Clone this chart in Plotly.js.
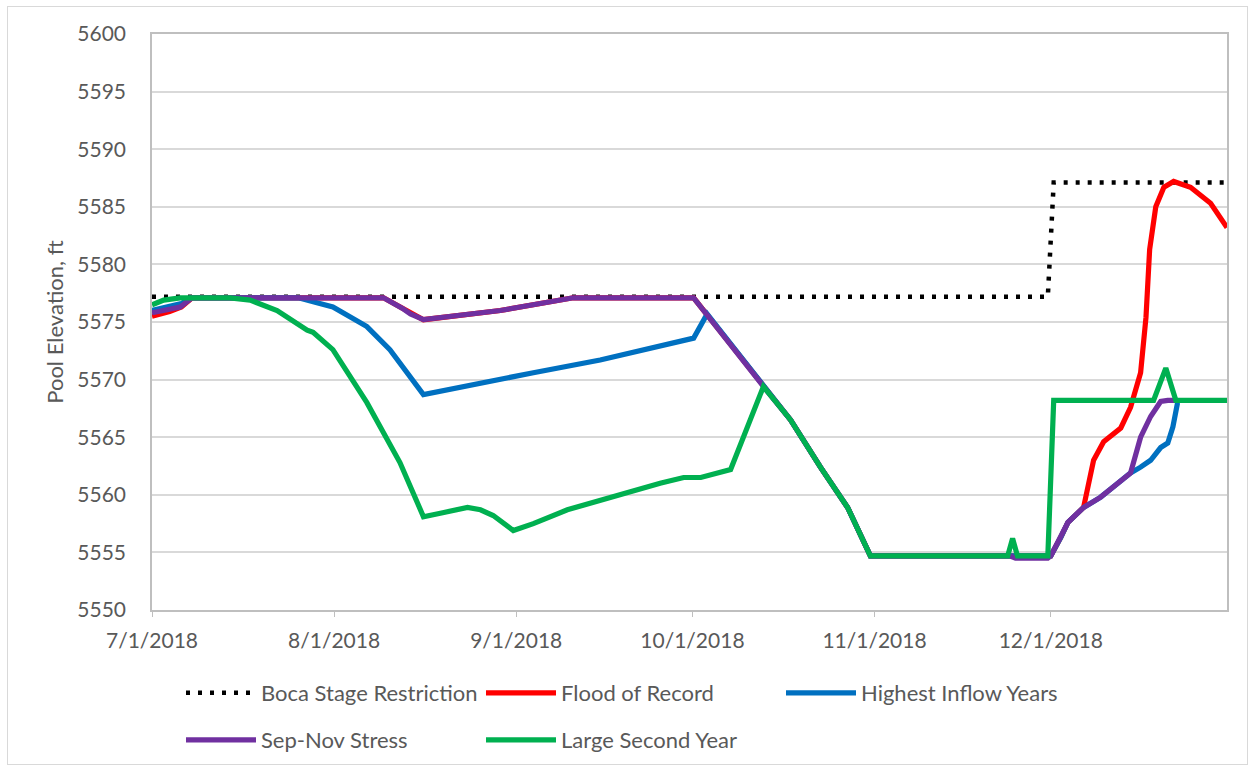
<!DOCTYPE html>
<html>
<head>
<meta charset="utf-8">
<script src="https://cdn.plot.ly/plotly-3.0.1.min.js"></script>
<style>
  html, body { margin: 0; padding: 0; background: #ffffff; }
  #wrap { position: relative; width: 1254px; height: 770px; }
  #chart { position: absolute; left: 0; top: 0; width: 1254px; height: 770px; }
  #frame { position: absolute; left: 7px; top: 6px; width: 1239px; height: 757px; border: 1px solid #d9d9d9; pointer-events: none; }
</style>
</head>
<body>
<div id="wrap"><div id="chart"></div><div id="frame"></div></div>
<script>
// ---- data ----
const seriesNames = ['Boca Stage Restriction', 'Flood of Record', 'Highest Inflow Years', 'Sep-Nov Stress', 'Large Second Year'];

const tickDates = ['2018-07-01', '2018-08-01', '2018-09-01', '2018-10-01', '2018-11-01', '2018-12-01'];
const tickLabels = ['7/1/2018', '8/1/2018', '9/1/2018', '10/1/2018', '11/1/2018', '12/1/2018'];

const bocaDates = ['2018-07-01', '2018-11-30 12:00', '2018-12-01 12:00', '2018-12-31'];
const bocaElev  = [5577.2, 5577.2, 5587.1, 5587.1];

const floodDates = ['2018-07-01', '2018-07-04', '2018-07-06', '2018-07-07 20:00', '2018-08-09 10:00', '2018-08-12 14:00',
  '2018-08-14', '2018-08-16 05:00', '2018-08-29 07:00', '2018-09-10 17:00', '2018-10-01 05:00', '2018-10-13 02:00',
  '2018-10-17 17:00', '2018-10-22 19:00', '2018-10-27 10:00', '2018-10-31 07:00', '2018-12-01', '2018-12-02 17:00',
  '2018-12-03 22:00', '2018-12-06 14:00', '2018-12-08 07:00', '2018-12-10', '2018-12-12 22:00', '2018-12-14 14:00',
  '2018-12-16 07:00', '2018-12-17 05:00', '2018-12-17 20:00', '2018-12-18 21:00', '2018-12-20 06:00', '2018-12-21 22:00',
  '2018-12-24 19:00', '2018-12-28 05:00', '2018-12-31'];
const floodElev = [5575.5, 5575.9, 5576.3, 5577.1, 5577.1, 5576.2,
  5575.7, 5575.2, 5576.0, 5577.1, 5577.1, 5569.4,
  5566.5, 5562.4, 5558.9, 5554.7, 5554.7, 5556.3,
  5557.6, 5558.9, 5563.0, 5564.6, 5565.8, 5567.6,
  5570.6, 5575.4, 5581.3, 5585.0, 5586.7, 5587.2,
  5586.7, 5585.3, 5583.2];

const highDates = ['2018-07-01', '2018-07-04', '2018-07-06', '2018-07-07 12:00', '2018-07-25 22:00', '2018-07-28 22:00',
  '2018-07-31 19:00', '2018-08-06 14:00', '2018-08-10 12:00', '2018-08-16 05:00', '2018-08-23 17:00', '2018-09-03 22:00',
  '2018-09-15 07:00', '2018-09-26 17:00', '2018-10-01 05:00', '2018-10-03 12:00', '2018-10-13 02:00', '2018-10-17 17:00',
  '2018-10-22 19:00', '2018-10-27 10:00', '2018-10-31 07:00', '2018-12-01', '2018-12-02 17:00', '2018-12-03 22:00',
  '2018-12-06 14:00', '2018-12-09 12:00', '2018-12-12 10:00', '2018-12-14 14:00', '2018-12-16 07:00', '2018-12-18',
  '2018-12-19 17:00', '2018-12-20 22:00', '2018-12-21 19:00', '2018-12-22 14:00'];
const highElev = [5576.0, 5576.3, 5576.6, 5577.1, 5577.1, 5576.7,
  5576.3, 5574.6, 5572.6, 5568.7, 5569.5, 5570.6,
  5571.7, 5573.0, 5573.6, 5575.7, 5569.4, 5566.5,
  5562.4, 5558.9, 5554.7, 5554.7, 5556.3, 5557.6,
  5558.9, 5559.8, 5561.0, 5561.9, 5562.4, 5563.0,
  5564.1, 5564.5, 5565.9, 5568.0];

const sepNovDates = ['2018-07-01', '2018-07-04', '2018-07-05 19:00', '2018-07-07 20:00', '2018-08-09 10:00', '2018-08-12 14:00',
  '2018-08-14', '2018-08-16 05:00', '2018-08-29 07:00', '2018-09-10 17:00', '2018-10-01 05:00', '2018-10-13 02:00',
  '2018-10-17 17:00', '2018-10-22 19:00', '2018-10-27 10:00', '2018-10-31 07:00', '2018-11-24', '2018-11-25',
  '2018-11-30 12:00', '2018-12-01', '2018-12-02 17:00', '2018-12-03 22:00', '2018-12-06 14:00', '2018-12-09 12:00',
  '2018-12-12 10:00', '2018-12-14 14:00', '2018-12-16 07:00', '2018-12-18', '2018-12-19 17:00', '2018-12-20 22:00',
  '2018-12-22 14:00'];
const sepNovElev = [5575.8, 5576.1, 5576.3, 5577.1, 5577.1, 5576.2,
  5575.7, 5575.2, 5576.0, 5577.1, 5577.1, 5569.4,
  5566.5, 5562.4, 5558.9, 5554.7, 5554.7, 5554.5,
  5554.5, 5554.7, 5556.3, 5557.6, 5558.9, 5559.8,
  5561.0, 5561.9, 5565.0, 5566.8, 5568.1, 5568.2,
  5568.2];

const largeDates = ['2018-07-01', '2018-07-03', '2018-07-05 19:00', '2018-07-14 07:00', '2018-07-17 17:00', '2018-07-22 07:00',
  '2018-07-27 10:00', '2018-07-28 10:00', '2018-07-31 19:00', '2018-08-06 14:00', '2018-08-12 05:00', '2018-08-16 05:00',
  '2018-08-19 02:00', '2018-08-23 17:00', '2018-08-25 22:00', '2018-08-28 02:00', '2018-08-31 12:00', '2018-09-03 22:00',
  '2018-09-09 17:00', '2018-09-15 07:00', '2018-09-20 22:00', '2018-09-25 12:00', '2018-09-29 12:00', '2018-10-02 10:00',
  '2018-10-07 12:00', '2018-10-13 02:00', '2018-10-17 17:00', '2018-10-22 19:00', '2018-10-27 10:00', '2018-10-31 07:00',
  '2018-11-23 16:00', '2018-11-24 12:00', '2018-11-25 08:00', '2018-11-30 12:00', '2018-12-01 12:00', '2018-12-18 12:00',
  '2018-12-20 14:00', '2018-12-22 07:00', '2018-12-31'];
const largeElev = [5576.5, 5576.9, 5577.1, 5577.1, 5576.9, 5576.0,
  5574.3, 5574.1, 5572.6, 5568.0, 5562.8, 5558.1,
  5558.4, 5558.9, 5558.7, 5558.2, 5556.9, 5557.5,
  5558.7, 5559.5, 5560.4, 5561.0, 5561.5, 5561.5,
  5562.2, 5569.4, 5566.5, 5562.4, 5558.9, 5554.7,
  5554.7, 5556.2, 5554.7, 5554.7, 5568.2, 5568.2,
  5571.0, 5568.2, 5568.2];

// ---- chart ----
const FONT = 'Lato, "Open Sans", sans-serif';
const TXT = '#595959';
const W = 5.2;

const traces = [
  { x: bocaDates, y: bocaElev, name: seriesNames[0], legend: 'legend',
    line: { color: '#000000', width: 4.5, dash: '4px,8px' } },
  { x: floodDates, y: floodElev, name: seriesNames[1], legend: 'legend',
    line: { color: '#FF0000', width: W } },
  { x: highDates, y: highElev, name: seriesNames[2], legend: 'legend',
    line: { color: '#0070C0', width: W } },
  { x: sepNovDates, y: sepNovElev, name: seriesNames[3], legend: 'legend2',
    line: { color: '#7030A0', width: W } },
  { x: largeDates, y: largeElev, name: seriesNames[4], legend: 'legend2',
    line: { color: '#00B050', width: W } }
].map(t => Object.assign({ type: 'scatter', mode: 'lines', hoverinfo: 'x+y+name' }, t));

const legendBase = {
  orientation: 'h', xref: 'container', yref: 'container', xanchor: 'left', yanchor: 'middle',
  entrywidth: 215, entrywidthmode: 'pixels', itemwidth: 70,
  font: { family: FONT, size: 22, color: TXT }, bgcolor: 'rgba(0,0,0,0)', borderwidth: 0,
  traceorder: 'normal'
};

const layout = {
  width: 1254, height: 770,
  margin: { l: 152, r: 27, t: 34, b: 160 },
  paper_bgcolor: '#ffffff', plot_bgcolor: '#ffffff',
  font: { family: FONT, size: 21, color: TXT },
  showlegend: true,
  xaxis: {
    type: 'date', range: ['2018-07-01', '2018-12-31'],
    tickmode: 'array', tickvals: tickDates, ticktext: tickLabels,
    showgrid: false, zeroline: false,
    showline: true, mirror: true, linecolor: '#bfbfbf', linewidth: 1.5,
    ticks: 'outside', ticklen: 5, tickcolor: '#bfbfbf',
    tickfont: { family: FONT, size: 21, color: TXT }, ticklabelstandoff: 6
  },
  yaxis: {
    range: [5550, 5600], tick0: 5550, dtick: 5,
    showgrid: true, gridcolor: '#d9d9d9', gridwidth: 1.5, zeroline: false,
    showline: true, mirror: true, linecolor: '#bfbfbf', linewidth: 1.5,
    ticks: '', tickformat: 'd',
    tickfont: { family: FONT, size: 21, color: TXT }, ticklabelstandoff: 20,
    title: { text: 'Pool Elevation, ft', font: { family: FONT, size: 22, color: TXT }, standoff: 8 }
  },
  legend: Object.assign({}, legendBase, { x: 181 / 1254, y: 1 - 693 / 770 }),
  legend2: Object.assign({}, legendBase, { x: 181 / 1254, y: 1 - 740 / 770 })
};

Plotly.newPlot('chart', traces, layout, { displayModeBar: false });
</script>
</body>
</html>
